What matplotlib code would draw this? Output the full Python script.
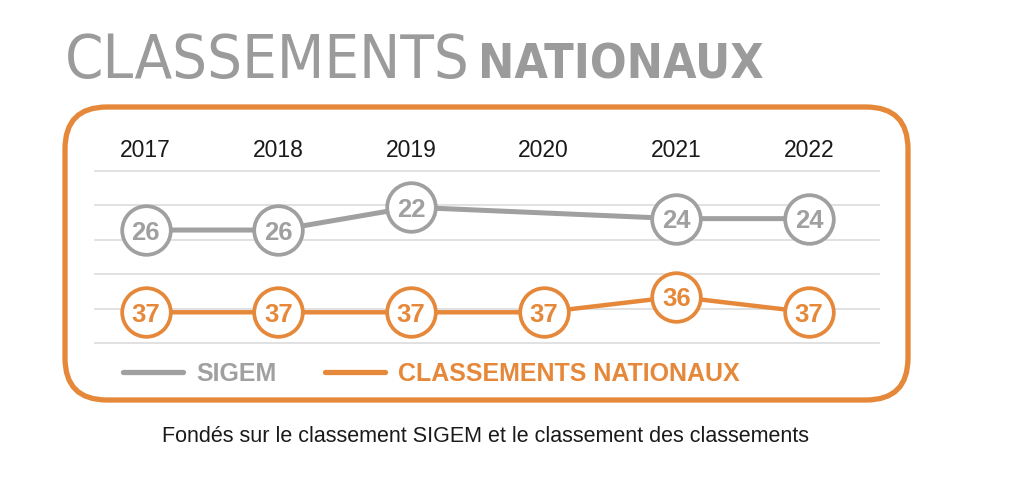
import matplotlib
matplotlib.use("Agg")
import matplotlib.pyplot as plt
from matplotlib import font_manager
from matplotlib.font_manager import FontProperties
from matplotlib.lines import Line2D
from matplotlib.patches import FancyBboxPatch

plt.rcParams['font.family'] = ['Liberation Sans', 'DejaVu Sans']

# Data
years = [2017, 2018, 2019, 2020, 2021, 2022]
sigem_years = [2017, 2018, 2019, 2021, 2022]
sigem_ranks = [26, 26, 22, 24, 24]
nat_years = [2017, 2018, 2019, 2020, 2021, 2022]
nat_ranks = [37, 37, 37, 37, 36, 37]

gray = '#a0a0a0'
orange = '#e6883a'
W, H = 1024, 486

fig = plt.figure(figsize=(W / 100, H / 100), dpi=100, facecolor='white')

# rounded orange frame (inches, so the corners stay round)
frame = FancyBboxPatch((0.65, 0.86), 8.43, 2.93,
                       boxstyle="round,pad=0,rounding_size=0.42",
                       transform=fig.dpi_scale_trans, fill=False,
                       edgecolor=orange, linewidth=3.8, zorder=0)
fig.patches.append(frame)

# main axes: SIGEM on the left scale, national ranking on a twin scale
ax = fig.add_axes([95 / W, 1 - 343 / H, (879 - 95) / W, (343 - 171) / H])
ax2 = ax.twinx()
for a in (ax, ax2):
    a.set_xlim(2016.618, 2022.527)
    a.set_facecolor('none')
    for s in a.spines.values():
        s.set_visible(False)
    a.set_xticks([])
    a.set_yticks([])
ax.set_ylim(45.8, 15.65)
ax2.set_ylim(38.97, 27.94)

# horizontal guide lines
for i in range(6):
    f = i / 5
    ax.plot([0, 1], [f, f], transform=ax.transAxes, color='#dcdcdc',
            lw=1.2, zorder=0, clip_on=False)

# year labels on top
for y in years:
    ax.text(y, 1.12, str(y), transform=ax.get_xaxis_transform(),
            ha='center', va='center', fontsize=16.5, color='#1a1a1a')

ax.plot(sigem_years, sigem_ranks, color=gray, lw=3.6, marker='o',
        markersize=35, markerfacecolor='white', markeredgecolor=gray,
        markeredgewidth=2.7, zorder=3, clip_on=False)
for x, v in zip(sigem_years, sigem_ranks):
    ax.text(x, v, str(v), ha='center', va='center_baseline', fontsize=18.5,
            fontweight='bold', color=gray, zorder=4)

ax2.plot(nat_years, nat_ranks, color=orange, lw=3.2, marker='o',
         markersize=35, markerfacecolor='white', markeredgecolor=orange,
         markeredgewidth=2.7, zorder=3, clip_on=False)
for x, v in zip(nat_years, nat_ranks):
    ax2.text(x, v, str(v), ha='center', va='center_baseline', fontsize=18.5,
             fontweight='bold', color=orange, zorder=4)

# legend
handles = [Line2D([], [], color=gray, lw=3.8, solid_capstyle='round'),
           Line2D([], [], color=orange, lw=3.8, solid_capstyle='round')]
leg = fig.legend(handles, ['SIGEM', 'CLASSEMENTS NATIONAUX'], ncol=2,
                 loc='center left', bbox_to_anchor=(123 / W, 1 - 374 / H),
                 frameon=False, borderpad=0, borderaxespad=0,
                 handlelength=2.4, handletextpad=0.55, columnspacing=1.9,
                 prop={'size': 18, 'weight': 'bold'})
for t, c in zip(leg.get_texts(), [gray, orange]):
    t.set_color(c)

# title: use a condensed face if one is installed, and fit each word
# to the reference width
cond = FontProperties(family='DejaVu Sans', stretch='condensed')
if 'Condensed' in font_manager.findfont(cond):
    tfam, tstretch = 'DejaVu Sans', 'condensed'
else:
    tfam, tstretch = 'Liberation Sans', 'normal'
renderer = fig.canvas.get_renderer()


def fit_word(x_px, word, target_w, weight):
    t = fig.text(x_px / W, 1 - 78 / H, word, ha='left', va='baseline',
                 fontsize=45, fontweight=weight, color='#9b9b9b',
                 family=tfam, stretch=tstretch)
    w = t.get_window_extent(renderer).width
    t.set_fontsize(min(45, 45 * target_w / w))
    return t.get_window_extent(renderer).width


w1 = fit_word(65, 'CLASSEMENTS', 405, 'normal')
fit_word(65 + w1 + 8, 'NATIONAUX', 285, 'bold')

# caption
fig.text(486 / W, 1 - 436 / H,
         'Fondés sur le classement SIGEM et le classement des classements',
         ha='center', va='center', fontsize=15.5, color='#1a1a1a')

fig.savefig('out.png', dpi=100, facecolor='white')
